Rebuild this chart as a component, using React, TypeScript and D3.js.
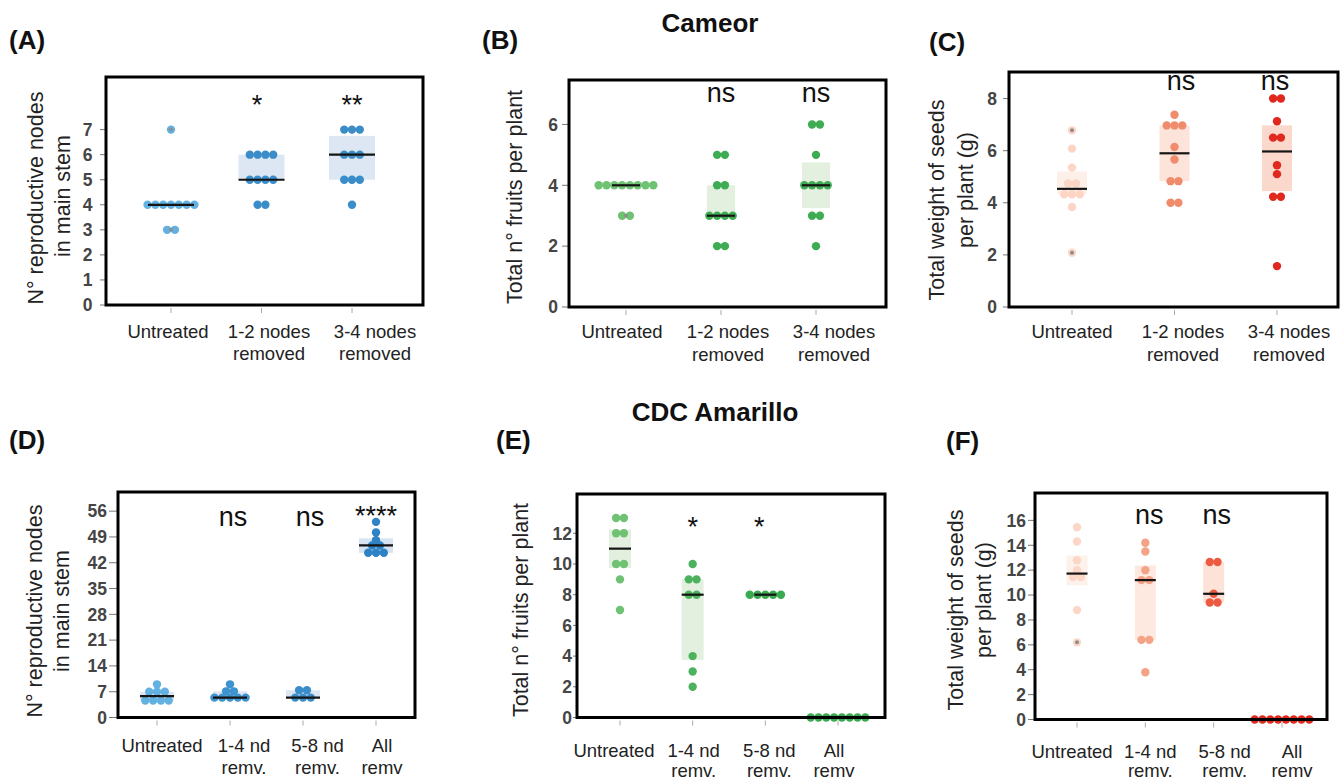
import React from "react";
import * as d3 from "d3";

// ---------- categories ----------
const cameorCategories = ["Untreated", "1-2 nodes removed", "3-4 nodes removed"];
const cameorLabelLines = [["Untreated"], ["1-2 nodes", "removed"], ["3-4 nodes", "removed"]];
const amarilloCategories = ["Untreated", "1-4 nd remv.", "5-8 nd remv.", "All remv"];
const amarilloLabelLines = [["Untreated"], ["1-4 nd", "remv."], ["5-8 nd", "remv."], ["All", "remv"]];

// ---------- values (per plant) ----------
const cameorNodes = [
  [7, 4, 4, 4, 4, 4, 4, 4, 3, 3],
  [6, 6, 6, 6, 5, 5, 5, 5, 4, 4],
  [7, 7, 7, 6, 6, 6, 5, 5, 5, 4],
];
const cameorFruits = [
  [4, 4, 4, 4, 4, 4, 4, 4, 3, 3],
  [5, 5, 4, 4, 3, 3, 3, 3, 2, 2],
  [6, 6, 5, 4, 4, 4, 4, 3, 3, 2],
];
const cameorSeeds = [
  [6.78, 6.08, 5.35, 4.74, 4.74, 4.33, 4.33, 4.33, 3.84, 2.08],
  [7.38, 6.97, 6.97, 6.97, 6.14, 5.66, 4.83, 4.83, 4.0, 4.0],
  [8.0, 8.0, 7.13, 6.5, 6.5, 5.44, 5.1, 4.23, 4.23, 1.57],
];
const amarilloNodes = [
  [9, 7, 7, 7, 4.6, 4.6, 4.6, 4.6],
  [9, 7.1, 7.1, 5.4, 5.4, 5.4, 5.4, 5.4],
  [7.4, 7.4, 5.4, 5.4, 5.4],
  [53.1, 50.2, 48.1, 46.7, 46.7, 44.7, 44.7, 44.7],
];
const amarilloFruits = [
  [13, 13, 12, 12, 10, 10, 9, 7],
  [10, 9, 9, 8, 8, 4, 3, 2],
  [8, 8, 8, 8, 8],
  [0, 0, 0, 0, 0, 0, 0, 0],
];
const amarilloSeeds = [
  [15.45, 14.3, 12.8, 12.0, 11.45, 11.45, 8.8, 6.2],
  [14.2, 13.5, 12.0, 11.2, 11.2, 6.4, 6.4, 3.8],
  [12.65, 12.65, 10.1, 9.4, 9.4],
  [0, 0, 0, 0, 0, 0, 0, 0],
];

// grey-centred points (overlapping marks in the original)
const cameorNodesGrey = [[7, 3], [], []];
const cameorFruitsGrey = [[3], [], []];
const cameorSeedsGrey = [[6.78, 2.08], [], []];
const amarilloSeedsGrey = [[6.2], [], [], []];

// ---------- significance labels ----------
const cameorNodesSig = ["", "*", "**"];
const cameorFruitsSig = ["", "ns", "ns"];
const cameorSeedsSig = ["", "ns", "ns"];
const amarilloNodesSig = ["", "ns", "ns", "****"];
const amarilloFruitsSig = ["", "*", "*", ""];
const amarilloSeedsSig = ["", "ns", "ns", ""];

// ---------- tick values ----------
const ticksA = [0, 1, 2, 3, 4, 5, 6, 7];
const ticksB = [0, 2, 4, 6];
const ticksC = [0, 2, 4, 6, 8];
const ticksD = [0, 7, 14, 21, 28, 35, 42, 49, 56];
const ticksE = [0, 2, 4, 6, 8, 10, 12];
const ticksF = [0, 2, 4, 6, 8, 10, 12, 14, 16];

// ---------- colours ----------
const blueDots3 = ["#62b1e1", "#3b8dca", "#3b8dca"];
const blueDots4 = ["#62b1e1", "#3f93cf", "#3b8dca", "#2f82c3"];
const greenDots3 = ["#6ec272", "#3dac53", "#3dac53"];
const greenDots4 = ["#6ec272", "#4cb25d", "#3aa94f", "#3aa94f"];
const redDots3 = ["#fdd5c4", "#f08b6c", "#e0281e"];
const redDots4 = ["#fcd7c7", "#f4a387", "#ec5b41", "#e02a1f"];
const blueFill = ["#dde6f3", "#dde6f3", "#dde6f3", "#d6e4f2"];
const greenFill = ["#e3f0e0", "#e3f0e0", "#e3f0e0", "#e3f0e0"];
const redFill3 = ["#fdf0e9", "#fde4da", "#fad8cc"];
const redFill4 = ["#fdf1eb", "#fde9e0", "#fde2d7", "#fde2d7"];

const FONT = "'Liberation Sans', Arial, Helvetica, sans-serif";

type Layout = {
  x0: number; x1: number; yTop: number; yBot: number; yMax: number;
  cx0: number; cx1: number; boxW: number;
  tickGap: number; tickLen: number;
  labelDx: number[]; labelY: number[];
  sigY: number; starY: number; sigDx: number[];
  titleLines: { text: string; x: number; y: number }[];
};

type Cfg = {
  cats: string[]; labelLines: string[][]; data: number[][]; sig: string[];
  ticks: number[]; dots: string[]; fills: string[]; grey: number[][]; L: Layout;
};

const STEP = 7.8;
const R = 4.2;

function Panel({ cfg }: { cfg: Cfg }) {
  const { cats, labelLines, data, sig, ticks, dots, fills, grey, L } = cfg;
  const y = d3.scaleLinear().domain([0, L.yMax]).range([L.yBot, L.yTop]);
  const x = d3.scalePoint<string>().domain(cats).range([L.cx0, L.cx1]);

  return (
    <g>
      {ticks.map((t) => (
        <g key={"t" + t}>
          <line x1={L.x0 - L.tickLen} x2={L.x0} y1={y(t)} y2={y(t)} stroke="#777" strokeWidth={1} />
          <text x={L.x0 - L.tickGap} y={y(t)} dy="0.36em" textAnchor="end" fontFamily={FONT}
            fontWeight="bold" fontSize={17.5} fill="#454545">{t}</text>
        </g>
      ))}
      {L.titleLines.map((tl, i) => (
        <text key={"yt" + i} transform={`translate(${tl.x},${tl.y}) rotate(-90)`} textAnchor="middle"
          fontFamily={FONT} fontSize={21.5} fill="#222">{tl.text}</text>
      ))}
      {cats.map((c, ci) => {
        const cx = x(c) as number;
        const vals = data[ci];
        const sorted = [...vals].sort((a, b) => a - b);
        const q1 = d3.quantile(sorted, 0.25) as number;
        const q3 = d3.quantile(sorted, 0.75) as number;
        const med = d3.median(sorted) as number;
        const groups = d3.groups(vals, (v) => v);
        const pts: { v: number; px: number }[] = [];
        groups.forEach(([v, arr]) => {
          const n = arr.length;
          arr.forEach((_, i) => pts.push({ v, px: cx + (i - (n - 1) / 2) * STEP }));
        });
        const isStar = sig[ci].startsWith("*");
        return (
          <g key={c}>
            {q3 > q1 && (
              <rect x={cx - L.boxW / 2} width={L.boxW} y={y(q3)} height={y(q1) - y(q3)} fill={fills[ci]} />
            )}
            {pts.map((p, i) => (
              <circle key={i} cx={p.px} cy={y(p.v)} r={R} fill={dots[ci]} />
            ))}
            {grey[ci].map((g, i) => (
              <circle key={"g" + i} cx={cx} cy={y(g)} r={2} fill="#8d8d8d" />
            ))}
            <line x1={cx - L.boxW / 2} x2={cx + L.boxW / 2} y1={y(med)} y2={y(med)} stroke="#151515" strokeWidth={2.2} />
            <line x1={cx} x2={cx} y1={L.yBot + 3} y2={L.yBot + 8} stroke="#aaa" strokeWidth={1} />
            {labelLines[ci].map((ln, li) => (
              <text key={"l" + li} x={cx + L.labelDx[ci]} y={L.labelY[li]} textAnchor="middle"
                fontFamily={FONT} fontSize={18.5} fill="#222">{ln}</text>
            ))}
            {sig[ci] && (
              <text x={cx + L.sigDx[ci]} y={isStar ? L.starY : L.sigY} textAnchor="middle" fontFamily={FONT}
                fontSize={isStar ? 27 : 27} fill="#111">{sig[ci]}</text>
            )}
          </g>
        );
      })}
      <rect x={L.x0} y={L.yTop} width={L.x1 - L.x0} height={L.yBot - L.yTop} fill="none" stroke="#000" strokeWidth={3} />
    </g>
  );
}

const layoutA: Layout = {
  x0: 106, x1: 423, yTop: 77, yBot: 305, yMax: 9.1, cx0: 171, cx1: 352, boxW: 46,
  tickGap: 13.5, tickLen: 6, labelDx: [-3, 7.5, 23], labelY: [337.5, 360],
  sigY: 101, starY: 113.5, sigDx: [0, -4.5, 0],
  titleLines: [{ text: "N° reproductive nodes", x: 42.5, y: 198 }, { text: "in main stem", x: 70, y: 196 }],
};
const layoutB: Layout = {
  x0: 569, x1: 886, yTop: 80, yBot: 307, yMax: 7.46, cx0: 626, cx1: 816, boxW: 28,
  tickGap: 11, tickLen: 7, labelDx: [-4, 7, 18], labelY: [338, 360.5],
  sigY: 101.5, starY: 112, sigDx: [0, 0, 0],
  titleLines: [{ text: "Total n° fruits per plant", x: 522, y: 197 }],
};
const layoutC: Layout = {
  x0: 1009, x1: 1338, yTop: 72, yBot: 307, yMax: 9.02, cx0: 1072, cx1: 1277, boxW: 30,
  tickGap: 12, tickLen: 6, labelDx: [0, 8.5, 12], labelY: [338, 361],
  sigY: 89.5, starY: 100, sigDx: [0, 6.5, -2],
  titleLines: [{ text: "Total weight of seeds", x: 944, y: 200 }, { text: "per plant (g)", x: 973, y: 190 }],
};
const layoutD: Layout = {
  x0: 118, x1: 415, yTop: 492, yBot: 717.5, yMax: 61.2, cx0: 157, cx1: 376, boxW: 34,
  tickGap: 11, tickLen: 9, labelDx: [5, 14, 14.5, 6], labelY: [751.5, 774],
  sigY: 525.5, starY: 525, sigDx: [0, 3, 7, 0],
  titleLines: [{ text: "N° reproductive nodes", x: 41.5, y: 611 }, { text: "in main stem", x: 69, y: 611 }],
};
const layoutE: Layout = {
  x0: 577, x1: 885, yTop: 494, yBot: 717.5, yMax: 14.56, cx0: 620, cx1: 838, boxW: 22,
  tickGap: 5, tickLen: 4, labelDx: [-6, 1, 4, -4], labelY: [756.5, 777],
  sigY: 535, starY: 536, sigDx: [0, 0, -6, 0],
  titleLines: [{ text: "Total n° fruits per plant", x: 527.5, y: 610 }],
};
const layoutF: Layout = {
  x0: 1035, x1: 1327, yTop: 493, yBot: 719.5, yMax: 18.2, cx0: 1077, cx1: 1282, boxW: 21,
  tickGap: 9, tickLen: 7, labelDx: [-5, 5, 11, 10], labelY: [757.5, 777],
  sigY: 523.5, starY: 535, sigDx: [0, 4, 3, 0],
  titleLines: [{ text: "Total weight of seeds", x: 962.5, y: 610 }, { text: "per plant (g)", x: 990.5, y: 600 }],
};

const panels: Cfg[] = [
  { cats: cameorCategories, labelLines: cameorLabelLines, data: cameorNodes, sig: cameorNodesSig, ticks: ticksA, dots: blueDots3, fills: blueFill, grey: cameorNodesGrey, L: layoutA },
  { cats: cameorCategories, labelLines: cameorLabelLines, data: cameorFruits, sig: cameorFruitsSig, ticks: ticksB, dots: greenDots3, fills: greenFill, grey: cameorFruitsGrey, L: layoutB },
  { cats: cameorCategories, labelLines: cameorLabelLines, data: cameorSeeds, sig: cameorSeedsSig, ticks: ticksC, dots: redDots3, fills: redFill3, grey: cameorSeedsGrey, L: layoutC },
  { cats: amarilloCategories, labelLines: amarilloLabelLines, data: amarilloNodes, sig: amarilloNodesSig, ticks: ticksD, dots: blueDots4, fills: blueFill, grey: [[], [], [], []], L: layoutD },
  { cats: amarilloCategories, labelLines: amarilloLabelLines, data: amarilloFruits, sig: amarilloFruitsSig, ticks: ticksE, dots: greenDots4, fills: greenFill, grey: [[], [], [], []], L: layoutE },
  { cats: amarilloCategories, labelLines: amarilloLabelLines, data: amarilloSeeds, sig: amarilloSeedsSig, ticks: ticksF, dots: redDots4, fills: redFill4, grey: amarilloSeedsGrey, L: layoutF },
];

const panelTags = [
  { t: "(A)", x: 9, y: 49 },
  { t: "(B)", x: 482, y: 49 },
  { t: "(C)", x: 929, y: 51 },
  { t: "(D)", x: 9, y: 449 },
  { t: "(E)", x: 496, y: 449 },
  { t: "(F)", x: 946, y: 450 },
];

export default function App() {
  return (
    <svg width={1343} height={781} style={{ position: "absolute", left: 0, top: 0, background: "#fff" }}>
      <rect x={0} y={0} width={1343} height={781} fill="#fff" />
      <text x={710} y={32} textAnchor="middle" fontFamily={FONT} fontWeight="bold" fontSize={26} fill="#111">Cameor</text>
      <text x={715} y={421} textAnchor="middle" fontFamily={FONT} fontWeight="bold" fontSize={26} fill="#111">CDC Amarillo</text>
      {panelTags.map((p) => (
        <text key={p.t} x={p.x} y={p.y} fontFamily={FONT} fontWeight="bold" fontSize={26} fill="#111">{p.t}</text>
      ))}
      {panels.map((cfg, i) => (
        <Panel key={i} cfg={cfg} />
      ))}
    </svg>
  );
}
